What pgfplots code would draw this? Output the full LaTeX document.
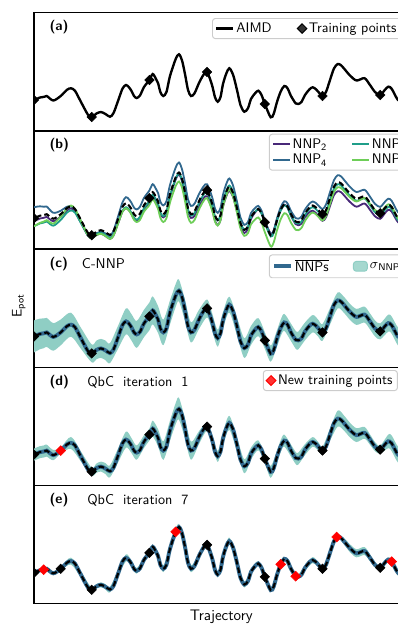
\documentclass[border=0pt]{standalone}
\usepackage{pgfplots}
\pgfplotsset{compat=1.18}
\usepackage{pgfplotstable}
\renewcommand{\familydefault}{\sfdefault}

\definecolor{cP}{RGB}{72,40,120}
\definecolor{cB}{RGB}{49,104,142}
\definecolor{cT}{RGB}{31,158,137}
\definecolor{cG}{RGB}{110,206,88}
\definecolor{band}{RGB}{143,206,196}
\definecolor{lgray}{RGB}{204,204,204}

\pgfplotstableread{
x A B P T G
28 102 91 105 110 110
34 100 89 103 108 108
40 97.5 88.1 100.3 105.2 104.6
43.7 96.9 88.5 99.6 104.4 103.4
46.7 96 88.3 98.7 103.3 102
53.3 100.5 94.6 103 107.5 105.4
60.7 96 92.6 98.4 101.7 98.4
67 89.8 88.5 92 94.4 90.2
71 88.3 88.3 90.3 92.3 87.3
75 90.8 91.2 93 94.4 90.6
81 102 103 104.5 105 103
88 114.8 116.5 117.6 117.2 117.1
91.7 117 119 120 119 120
96.5 113.5 115.2 116.8 115.8 116.8
101 112 113.5 115.5 114.6 115.6
105.5 114 115.2 117.8 116.8 117.8
110 116.7 117.7 120.7 119.8 120.8
113.5 113.1 112.6 117.3 116.4 117.4
118 101 98.5 105.5 104.5 105.5
122.5 88.6 84.1 93.4 92.4 93.4
126 85 79 90 89 90
129 87.3 81.1 92.2 91.1 92.5
131.5 91 84.6 95.8 94.7 96.4
134 96 89.4 100.7 99.5 101.6
136.7 98 91.2 102.6 101.4 103.8
140 95.5 88.5 100 98.7 101.6
144 87 79.7 91.3 90 93.4
149.4 80 72.3 84.1 82.7 86.8
152.7 74 66 78 76.5 81
156 79 70.8 82.7 81.3 86.2
158 83 74.6 86.6 85.2 90.4
160.5 92.4 83.8 95.8 94.4 100
163.3 96 87.2 99.2 97.9 103.8
166.5 91.9 82.9 94.9 93.6 99.9
170 76 66.7 78.7 77.5 84.3
175.7 59 49.3 61.3 60.2 67.8
179 54.3 44.3 56.3 55.3 63.3
182 60.4 50.9 62.9 61.5 69.3
185 74 64.9 76.9 75.2 82.8
188 89.9 81.2 93.2 91.2 98.6
191 96 87.7 99.7 97.4 104.6
194.5 93.3 85.5 97.5 94.8 101.8
199 83 75.9 87.9 84.7 91.3
203.5 74.8 68.3 80.3 76.7 82.9
207.1 72 66 78 74 80
212 85 78.5 90.6 86.3 91.9
215 97.2 90.4 102.6 98.1 103.4
217.7 101.7 94.7 106.9 102.2 107.3
220.5 97.1 89.8 102 97.3 102.1
223 84 76.5 88.7 83.8 88.4
226.3 73.5 65.7 78 72.9 77.2
229.3 68.3 60.3 72.6 67.3 71.3
233 74.5 67.2 78.5 73.7 78.2
237 90 83.5 93.6 89.4 94.5
240.5 105.1 99.3 108.5 104.6 110.3
244.3 111.7 106.6 114.8 111.4 117.6
248 108.2 103.7 110.6 108.1 114.8
251 99 94.9 100.8 99 106.2
255 93.4 89.9 94.4 93.6 101.4
258.3 90.7 87.7 91.1 91.1 99.3
261.5 94.9 92.4 94.7 95.4 104.1
264.8 104 102 103.2 104.7 113.8
270.7 117.3 116.3 115.4 118.3 128.2
273.7 113.7 112.3 112.3 114.7 124.2
277 102 100.1 101.1 103 112.1
280.7 91.5 89 91.3 92.5 101
284.3 86 83 86.5 87.1 95
287.5 88.2 85.1 89.3 89.4 97
291 96 92.8 97.7 97.3 104.5
295.7 103.4 100 106 104.8 111.6
298.3 104 100.5 107 105.4 112
301.5 101.9 98.3 105.4 103.3 109.7
305 95 91.3 99 96.5 102.6
309.5 89.3 85.4 94 90.9 96.5
312.7 87.3 83.3 92.5 88.9 94.3
316 89.3 84.9 95 91 96.1
318 91.5 86.9 97.5 93.2 98.1
322.5 96 90.9 102.6 97.8 102.2
326 91.9 86.3 99.1 93.8 97.8
330 80 74 87.8 81.9 85.6
334 68.4 61.9 76.8 70.4 73.7
337.7 64 57 73 66 69
341 65.2 58.2 74 67.2 69.8
344 68.5 61.6 77.1 70.5 72.8
350 75.5 68.7 83.8 77.5 79.1
356.5 80.5 73.8 88.5 82.5 83.3
364.5 78.2 71.6 85.3 80.2 79.7
370 85 78.5 91.6 87 85.6
375 92 85.6 98.1 94 91.8
380.2 95 88.7 100.6 97 94
385 89.7 83.5 94.9 91.7 88.9
388.3 86.7 80.5 91.6 88.7 86.1
391.7 88.8 82.7 93.4 90.8 88.3
398 100 94 104 102 100
405 103 97 107 105 103
412 102 96 106 104 102
}\data

% band outlines: upper edge left to right, then lower edge right to left
\pgfplotstableread{
x yc yd ye
28 86 96 99.5
34 84 94 97.5
40 82.2 91.5 95.6
43.7 82 90.9 95.4
46.7 81.5 90 94.5
53.3 86.7 95.4 99
60.7 83.1 93 94.5
71 76.3 82.3 84.8
81 91.5 97 99.2
91.7 108 113 115
96.5 104.2 108.9 111.3
101 102.5 107 109.6
105.5 104.2 108.5 111.4
110 106.7 110.7 113.9
118 89.5 94 97.9
126 72 77 81.5
131.5 77.8 83.5 87.9
136.7 84.6 90.9 95.2
144 73.3 80.6 84.7
149.4 66.1 74 78
152.7 60 66.1 71.7
158 69.6 74.4 80.2
163.3 83.2 86.8 92.6
170 64 66 73.2
175.7 47.6 48.4 57
179 43.3 43.3 51.3
185 63.4 64 70.8
191 85.9 87 92.5
199 73.4 76.5 80.3
207.1 63 68 70
212 76.2 80.3 82.7
217.7 93.2 96.2 99
223 75.7 77.8 80.9
229.3 60.3 61.3 64.8
237 81 83 86.8
244.3 101.8 104.7 108.7
251 89.5 92.9 96.3
258.3 81.7 85.7 88.4
264.8 95.6 100 102
270.7 109.3 111.3 115.3
277 93.8 96 100
280.7 83.2 85.5 89.5
284.3 77.5 80 84
291 87.3 90 94
295.7 94.5 97.4 101.4
298.3 95.1 98 101.8
305 86.1 89.5 92.4
312.7 78.6 82.5 84.3
318 83 87.1 89.1
322.5 87.6 92 94
330 71.8 74 78
337.7 56 56 62
344 60.5 60.9 65.4
350 67.5 68.2 71.5
356.5 72.5 73.6 76.5
364.5 70.2 72.3 74.2
370 77 79.8 81.6
375 84 87.4 89.3
380.2 87 91 93
388.3 78.2 79.9 84.7
391.7 80.2 80.9 86.8
398 91 92 97
405 94 95 100
412 93 94 99
412 111 110 105
405 112 111 106
398 109 108 103
391.7 97.4 96.7 90.8
388.3 95.2 93.5 88.7
380.2 103 99 97
375 100 96.6 94.7
370 93 90.2 88.4
364.5 86.2 84.1 82.2
356.5 88.5 87.4 84.5
350 83.5 82.8 79.5
344 76.5 76.1 71.6
337.7 72 72 66
330 88.2 86 82
322.5 104.4 100 98
318 100 95.9 93.9
312.7 96 92.1 90.3
305 103.9 100.5 97.6
298.3 112.9 110 106.2
295.7 112.3 109.4 105.4
291 104.7 102 98
284.3 94.5 92 88
280.7 99.8 97.5 93.5
277 110.2 108 104
270.7 125.3 123.3 119.3
264.8 112.4 108 106
258.3 99.7 95.7 93
251 108.5 105.1 101.7
244.3 121.6 118.7 114.7
237 99 97 93.2
229.3 76.3 75.3 71.8
223 92.3 90.2 87.1
217.7 110.2 107.2 104.4
212 93.8 89.7 87.3
207.1 81 76 74
199 92.6 89.5 85.7
191 106.1 105 99.5
185 84.6 84 77.2
179 65.3 65.3 57.3
175.7 70.4 69.6 61
170 88 86 78.8
163.3 108.8 105.2 99.4
158 96.4 91.6 85.8
152.7 88 81.9 76.3
149.4 93.9 86 82
144 100.7 93.4 89.3
136.7 111.4 105.1 100.8
131.5 104.2 98.5 94.1
126 98 93 88.5
118 112.5 108 104.1
110 126.7 122.7 119.5
105.5 123.8 119.5 116.6
101 121.5 117 114.4
96.5 122.8 118.1 115.7
91.7 126 121 119
81 112.5 107 104.8
71 100.3 94.3 91.8
60.7 108.9 99 97.5
53.3 114.3 105.6 102
46.7 110.5 102 97.5
43.7 111.8 102.9 98.4
40 112.8 103.5 99.4
34 116 106 102.5
28 118 108 104.5
}\bandtab

\pgfplotstableread{
x y
34 100
91.7 117
149.4 80
207.1 72
264.8 104
322.5 96
380.2 95
}\tpts

\tikzset{lab/.style={anchor=west, inner sep=0pt, font=\fontsize{10.2}{12}\selectfont},
  plab/.style={anchor=west, inner sep=0pt, font=\bfseries\fontsize{9.9}{12}\selectfont}}

\pgfplotsset{
  panel/.style={scale only axis, width=269.28pt, height=85.104pt,
    xmin=34, xmax=408, ymin=12.7, ymax=130.9, y dir=reverse,
    ticks=none, axis line style={line width=1.1pt},
    clip marker paths=true, anchor=north west,
    legend image code/.code={\draw[mark repeat=2,mark phase=2,##1] plot coordinates {(0pt,0pt) (6pt,0pt) (12pt,0pt)};},
    legend cell align=left,
    legend style={anchor=north west, draw=lgray, line width=0.7pt, fill=white, fill opacity=0.8, text opacity=1,
      rounded corners=2pt, font=\fontsize{10}{12}\selectfont,
      inner xsep=2pt, inner ysep=1.5pt,
      nodes={inner sep=1.5pt, text depth=0.15em}},
  },
  aimd/.style={black, line width=1.7pt, smooth},
  aimdd/.style={black, line width=1.5pt, dash pattern=on 4pt off 2.2pt, smooth},
  nnp/.style={line width=1.3pt, smooth},
  tp/.style={only marks, mark=square*, mark size=2.4pt, mark options={rotate=45, fill=black, draw=black, solid}},
  tpr/.style={only marks, mark=square*, mark size=2.5pt, mark options={rotate=45, fill=red, draw=red, solid}},
  meanl/.style={cB, line width=2.8pt, smooth},
  bandfill/.style={fill=band, draw=none, smooth, forget plot},
}

\begin{document}
\begin{tikzpicture}

% (a)
\begin{axis}[panel, at={(24.48pt,-9.144pt)},
  legend columns=2,
  legend style={at={(axis description cs:0.476,0.955)},
    /tikz/every even column/.append style={column sep=17pt}}]
\addplot[aimd] table[x=x,y=A] {\data};
\addlegendentry{AIMD}
\addplot[tp] table[x=x,y=y] {\tpts};
\addlegendentry{Training points}
\node[plab] at (axis description cs:0.041,0.877) {(a)};
\end{axis}

% (b)
\begin{axis}[panel, at={(24.48pt,-94.248pt)},
  legend columns=2, transpose legend,
  legend style={at={(axis description cs:0.628,0.976)},
    /tikz/every even column/.append style={column sep=16pt}}]
\addplot[nnp, cP] table[x=x,y=P] {\data};
\addlegendentry{NNP\textsubscript{2}}
\addplot[nnp, cB] table[x=x,y=B] {\data};
\addlegendentry{NNP\textsubscript{4}}
\addplot[nnp, cT] table[x=x,y=T] {\data};
\addlegendentry{NNP\textsubscript{6}}
\addplot[nnp, cG] table[x=x,y=G] {\data};
\addlegendentry{NNP\textsubscript{8}}
\addplot[aimdd, forget plot] table[x=x,y=A] {\data};
\addplot[tp, forget plot] table[x=x,y=y] {\tpts};
\node[plab] at (axis description cs:0.041,0.877) {(b)};
\end{axis}

% (c)
\begin{axis}[panel, at={(24.48pt,-179.352pt)},
  legend columns=2,
  legend style={at={(axis description cs:0.628,0.955)},
    /tikz/every even column/.append style={column sep=16pt}}]
\addplot[bandfill] table[x=x,y=yc] {\bandtab};
\addplot[meanl, forget plot] table[x=x,y=A] {\data};
\addplot[aimdd, forget plot] table[x=x,y=A] {\data};
\addplot[tp, forget plot] table[x=x,y=y] {\tpts};
\addlegendimage{cB, line width=2.8pt}
\addlegendentry{$\overline{\mbox{NNPs}}$}
\addlegendimage{legend image code/.code={\fill[band] (0pt,-3.5pt) rectangle (10pt,3.5pt);}}
\addlegendentry{$\sigma$\textsubscript{NNPs}}
\node[plab] at (axis description cs:0.041,0.877) {(c)};
\node[lab] at (axis description cs:0.1275,0.877) {C-NNP};
\end{axis}

% (d)
\begin{axis}[panel, at={(24.48pt,-264.456pt)},
  legend style={at={(axis description cs:0.612,0.977)}}]
\addplot[bandfill] table[x=x,y=yd] {\bandtab};
\addplot[meanl, forget plot] table[x=x,y=A] {\data};
\addplot[aimdd, forget plot] table[x=x,y=A] {\data};
\addplot[tp, forget plot] table[x=x,y=y] {\tpts};
\addplot[tpr] coordinates {(60.7,96)};
\addlegendentry{New training points}
\node[plab] at (axis description cs:0.041,0.877) {(d)};
\node[lab] at (axis description cs:0.1417,0.877) {QbC\hspace{6.5pt}iteration\hspace{6.5pt}1};
\end{axis}

% (e)
\begin{axis}[panel, at={(24.48pt,-349.56pt)}]
\addplot[bandfill] table[x=x,y=ye] {\bandtab};
\addplot[meanl, forget plot] table[x=x,y=A] {\data};
\addplot[aimdd, forget plot] table[x=x,y=A] {\data};
\addplot[tp, forget plot] table[x=x,y=y] {\tpts};
\addplot[tp, forget plot] coordinates {(60.7,96)};
\addplot[tpr, forget plot] coordinates {(43.7,96.9) (175.7,59) (280.7,91.5) (295.7,103.4) (336.7,64.2) (391.7,88.8)};
\node[plab] at (axis description cs:0.041,0.877) {(e)};
\node[lab] at (axis description cs:0.1417,0.877) {QbC\hspace{6.5pt}iteration\hspace{6.5pt}7};
\end{axis}

\node[rotate=90, anchor=base, inner sep=0pt, font=\fontsize{10}{12}\selectfont] at (15.6pt,-220.2pt) {E\textsubscript{pot}};
\node[anchor=base, inner sep=0pt, font=\fontsize{11}{13}\selectfont] at (159.34pt,-446.8pt) {Trajectory};

\pgfresetboundingbox
\useasboundingbox (0pt,0pt) rectangle (286.56pt,-450pt);
\end{tikzpicture}
\end{document}
